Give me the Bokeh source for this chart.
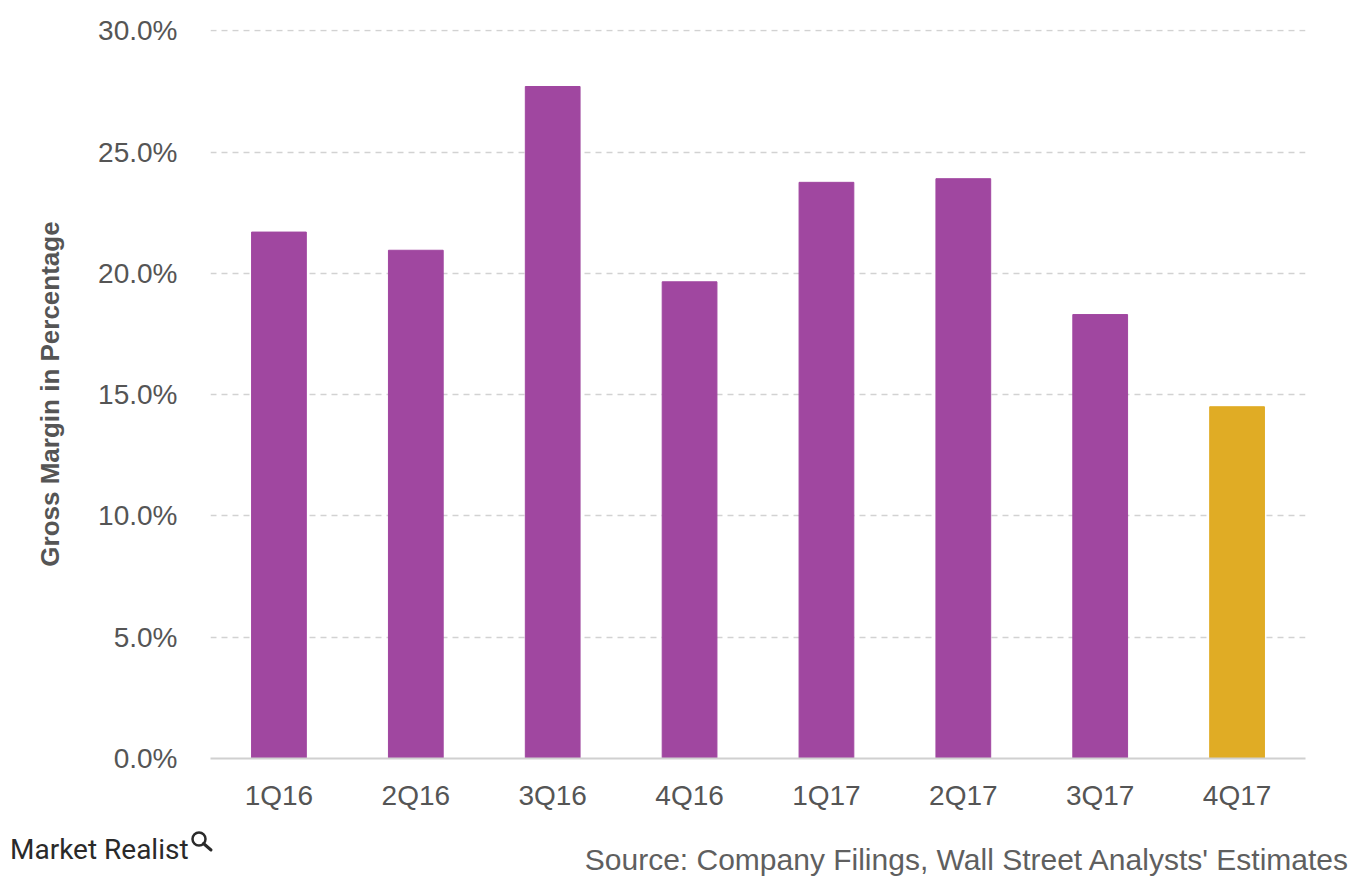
from bokeh.plotting import figure
from bokeh.models import ColumnDataSource, FixedTicker, Range1d, CustomJSTickFormatter, Div
from bokeh.layouts import column
from bokeh.embed import file_html
from bokeh.resources import INLINE

quarters = ["1Q16", "2Q16", "3Q16", "4Q16", "1Q17", "2Q17", "3Q17", "4Q17"]
gross_margin = [21.7, 20.95, 27.7, 19.65, 23.75, 23.9, 18.3, 14.5]
bar_colors = ["#A047A0"] * 7 + ["#E0AC25"]
y_ticks = [0, 5, 10, 15, 20, 25, 30]
brand = "Market Realist"
source_note = "Source: Company Filings, Wall Street Analysts' Estimates"

src = ColumnDataSource(dict(q=quarters, v=gross_margin, c=bar_colors))

p = figure(x_range=quarters, y_range=Range1d(0, 30.05), width=1352, height=820,
           output_backend="svg", toolbar_location=None,
           min_border_left=210, min_border_right=47, min_border_top=29, min_border_bottom=62)
p.vbar(x="q", top="v", width=0.4, color="c", source=src)

p.outline_line_color = None
p.background_fill_color = "white"
p.border_fill_color = "white"

p.xgrid.grid_line_color = None
p.ygrid.grid_line_color = "#d2d2d2"
p.ygrid.grid_line_dash = "6 5"
p.ygrid.grid_line_width = 1.5
p.yaxis.ticker = FixedTicker(ticks=y_ticks)
p.yaxis.formatter = CustomJSTickFormatter(code="return tick.toFixed(1) + '%';")
p.yaxis.axis_line_color = None
p.yaxis.major_tick_line_color = None
p.yaxis.minor_tick_line_color = None
p.yaxis.major_label_text_font = "Liberation Sans"
p.yaxis.major_label_text_font_size = "28px"
p.yaxis.major_label_text_color = "#555555"
p.yaxis.major_label_standoff = 27
p.yaxis.axis_label = "Gross Margin in Percentage"
p.yaxis.axis_label_text_font = "Liberation Sans"
p.yaxis.axis_label_text_font_size = "26px"
p.yaxis.axis_label_text_font_style = "bold"
p.yaxis.axis_label_text_color = "#555555"
p.yaxis.axis_label_standoff = 30

p.xaxis.axis_line_color = "#d0d0d0"
p.xaxis.axis_line_width = 2
p.xaxis.major_tick_line_color = None
p.xaxis.minor_tick_line_color = None
p.xaxis.major_label_text_font = "Liberation Sans"
p.xaxis.major_label_text_font_size = "28px"
p.xaxis.major_label_text_color = "#555555"
p.xaxis.major_label_standoff = 15

footer_html = f"""
<div style="position:relative;width:1352px;height:58px;background:white;overflow:hidden;">
  <div style="position:absolute;left:10px;top:16px;font-family:Roboto;font-size:28px;line-height:28px;color:#2a2a2a;white-space:nowrap;">{brand}</div>
  <svg style="position:absolute;left:190px;top:10px;" width="26" height="26" viewBox="0 0 26 26">
    <circle cx="9" cy="9" r="6.5" fill="none" stroke="#2a2a2a" stroke-width="2.5"/>
    <line x1="13.5" y1="13.5" x2="21" y2="20" stroke="#2a2a2a" stroke-width="3" stroke-linecap="round"/>
  </svg>
  <div style="position:absolute;right:4px;top:25px;font-family:'Liberation Sans';font-size:30px;line-height:30px;color:#5f5f5f;white-space:nowrap;">{source_note}</div>
</div>
"""
footer = Div(text=footer_html, width=1352, height=58, margin=(0, 0, 0, 0))

layout = column(p, footer, spacing=0)
open("out.html", "w").write(file_html(layout, INLINE))
